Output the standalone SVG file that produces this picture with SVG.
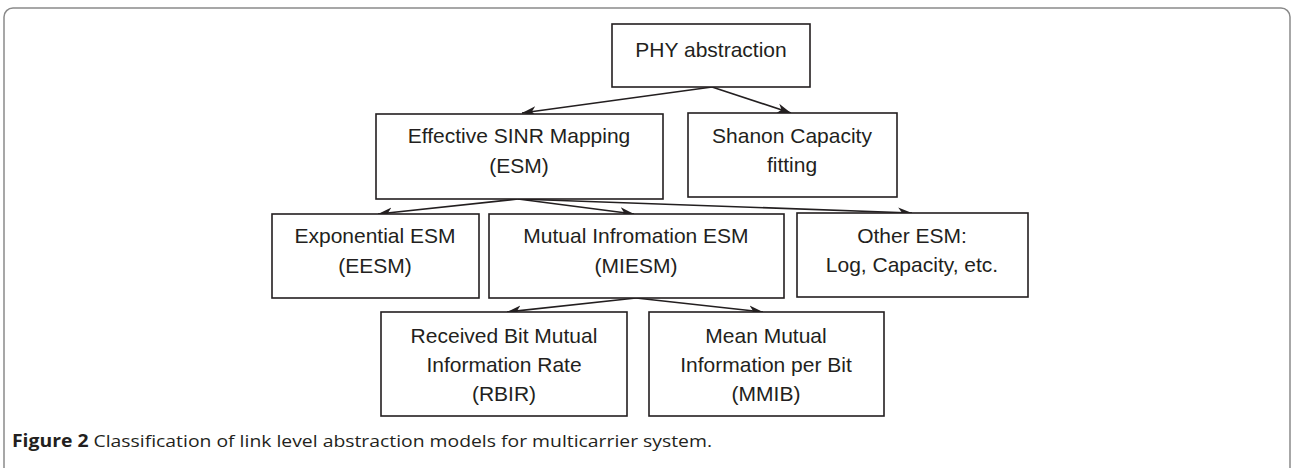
<svg xmlns="http://www.w3.org/2000/svg" width="1294" height="468" viewBox="0 0 1294 468">
<style>
.box{fill:#fff;stroke:#231f20;stroke-width:1.6}
.t{font-family:"Liberation Sans",Arial,sans-serif;font-size:21px;fill:#231f20;text-anchor:middle}
.c{fill:none;stroke:#231f20;stroke-width:1.6}
.cap{font-family:"Open Sans","Liberation Sans",sans-serif;font-size:17px;fill:#231f20}
</style>
<defs>
<marker id="ah" markerUnits="userSpaceOnUse" markerWidth="16" markerHeight="12" viewBox="0 0 16 12" refX="14" refY="6" orient="auto">
<path d="M0,1 L14,6 L0,11 L4,6 z" fill="#231f20"/>
</marker>
</defs>
<rect x="4" y="8" width="1286" height="480" rx="9" ry="9" fill="#fff" stroke="#8a8a8a" stroke-width="1.5"/>
<g id="connectors">
<path class="c" d="M712,87 L522,113" marker-end="url(#ah)"/>
<path class="c" d="M712,87 L791,113" marker-end="url(#ah)"/>
<path class="c" d="M518,199 L378,214" marker-end="url(#ah)"/>
<path class="c" d="M518,199 L634,214" marker-end="url(#ah)"/>
<path class="c" d="M518,199 L912,213" marker-end="url(#ah)"/>
<path class="c" d="M636,298 L507,312" marker-end="url(#ah)"/>
<path class="c" d="M636,298 L763,312" marker-end="url(#ah)"/>
</g>
<g id="phy">
<rect class="box" x="612" y="24" width="198" height="63"/>
<text class="t" x="711" y="57">PHY abstraction</text>
</g>
<g id="esm">
<rect class="box" x="376" y="114" width="287" height="85"/>
<text class="t" x="519" y="143">Effective SINR Mapping</text>
<text class="t" x="519" y="173">(ESM)</text>
</g>
<g id="shanon">
<rect class="box" x="688" y="113" width="209" height="84"/>
<text class="t" x="792" y="143">Shanon Capacity</text>
<text class="t" x="792" y="172">fitting</text>
</g>
<g id="eesm">
<rect class="box" x="272" y="214" width="207" height="84"/>
<text class="t" x="375" y="243">Exponential ESM</text>
<text class="t" x="375" y="273">(EESM)</text>
</g>
<g id="miesm">
<rect class="box" x="489" y="214" width="295" height="84"/>
<text class="t" x="636" y="243">Mutual Infromation ESM</text>
<text class="t" x="636" y="273">(MIESM)</text>
</g>
<g id="other">
<rect class="box" x="797" y="213" width="231" height="84"/>
<text class="t" x="912" y="243">Other ESM:</text>
<text class="t" x="912" y="272">Log, Capacity, etc.</text>
</g>
<g id="rbir">
<rect class="box" x="381" y="312" width="246" height="104"/>
<text class="t" x="504" y="343">Received Bit Mutual</text>
<text class="t" x="504" y="372">Information Rate</text>
<text class="t" x="504" y="401">(RBIR)</text>
</g>
<g id="mmib">
<rect class="box" x="649" y="312" width="235" height="104"/>
<text class="t" x="766" y="343">Mean Mutual</text>
<text class="t" x="766" y="372">Information per Bit</text>
<text class="t" x="766" y="401">(MMIB)</text>
</g>
<text class="cap" x="12" y="447" textLength="700" lengthAdjust="spacingAndGlyphs"><tspan font-weight="bold">Figure 2</tspan> Classification of link level abstraction models for multicarrier system.</text>
</svg>
